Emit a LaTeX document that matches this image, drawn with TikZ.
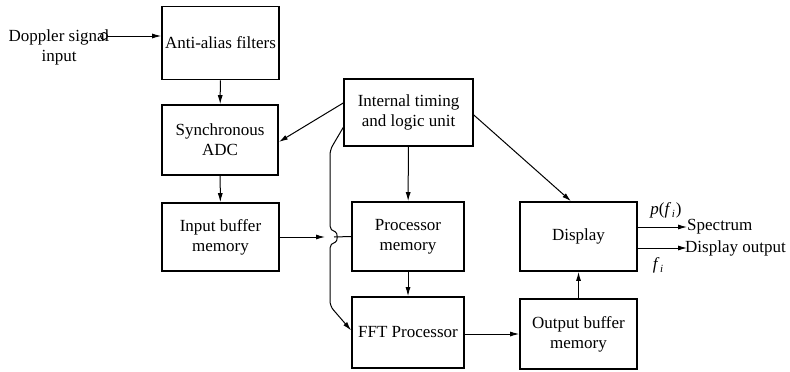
\documentclass[tikz,border=0pt]{standalone}
\usepackage{fontspec}
\setmainfont{Liberation Serif}
\usetikzlibrary{arrows.meta}
\begin{document}
\begin{tikzpicture}[x=1pt,y=-1pt,
  box/.style={draw, line width=1.6pt, align=center, inner sep=0pt},
  arr/.style={line width=1pt, -{Latex[length=9pt,width=5pt]}},
  ln/.style={line width=1pt},
  every node/.style={font=\fontsize{17}{20}\selectfont}]
\useasboundingbox (0,0) rectangle (790,372);

% blocks
\node[box, minimum width=117pt, minimum height=73pt] (anti) at (220.5,43) {Anti-alias filters};
\node[box, minimum width=116pt, minimum height=70pt] (adc) at (220,140) {Synchronous\\ADC};
\node[box, minimum width=117pt, minimum height=68pt] (inbuf) at (220.5,237) {Input buffer\\memory};
\node[box, minimum width=129pt, minimum height=67pt] (timing) at (408.5,112.5) {Internal timing\\and logic unit};
\node[box, minimum width=112pt, minimum height=69pt] (procmem) at (408,236.5) {Processor\\memory};
\node[box, minimum width=112pt, minimum height=71pt] (fft) at (408,332.5) {FFT Processor};
\node[box, minimum width=117pt, minimum height=69pt] (display) at (578.5,236.5) {Display};
\node[box, minimum width=117pt, minimum height=70pt] (outbuf) at (578.5,334) {Output buffer\\memory};

% input terminal
\node[align=center] (dop) at (59,47) {Doppler signal\\input};
\node[draw, circle, line width=0.9pt, minimum size=7pt, inner sep=0pt] (cin) at (104,36) {};
\draw[arr] (cin.east) -- (cin -| anti.west);

% main signal chain
\draw[arr] (anti) -- (adc);
\draw[arr] (adc) -- (inbuf);
\coordinate (hopA) at (325,237);
\coordinate (hopB) at (334,237);
\draw[arr] (inbuf.east) -- (hopA);
\draw[ln] (hopB) -- (procmem.west);
\draw[arr] (procmem) -- (fft);
\draw[arr] (fft.east |- outbuf.west) -- (outbuf.west);
\draw[arr] (outbuf) -- (display);

% timing and control lines
\draw[arr] ([yshift=9.5pt]timing.west) -- ([yshift=-2pt]adc.east);
\draw[arr] (timing) -- (procmem);
\draw[arr] ([yshift=-2.5pt]timing.east) -- ([xshift=-7.5pt]display.north);
\draw[arr, rounded corners=5pt] ([yshift=-15pt]timing.west) -- (330,150) -- (330,231)
  .. controls (338,232) and (338,242) .. (330,243) -- (330,306) -- ([yshift=2pt]fft.west);

% display outputs
\coordinate (spec) at (687,227);
\coordinate (dout) at (687,248);
\draw[arr] ([yshift=9.5pt]display.east) -- (spec);
\draw[arr] ([yshift=-11.5pt]display.east) -- (dout);
\node[anchor=west, inner sep=0pt] (spect) at (spec) {Spectrum};
\node[anchor=west, inner sep=0pt] (doutt) at ([xshift=-2pt]dout) {Display output};
\node (pf) at (666,210) {\textit{p}(\textit{f}\kern0.5pt\raisebox{-3pt}{\fontsize{11}{12}\selectfont\textit{i}}\kern1pt)};
\node (fi) at (658,265) {\textit{f}\kern0.5pt\raisebox{-3pt}{\fontsize{11}{12}\selectfont\textit{i}}};
\end{tikzpicture}
\end{document}
